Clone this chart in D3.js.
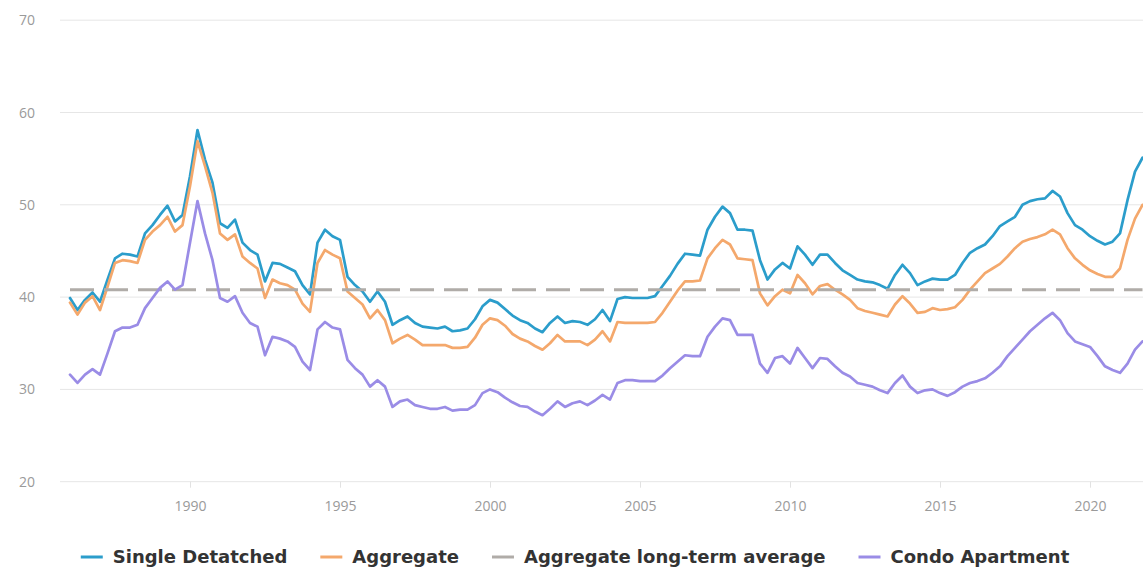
<!DOCTYPE html>
<html>
<head>
<meta charset="utf-8">
<script src="https://cdn.jsdelivr.net/npm/d3@7"></script>
<style>
  html, body { margin: 0; padding: 0; background: #fff; }
  svg { display: block; }
</style>
</head>
<body>
<svg id="chart" width="1143" height="569"></svg>
<script>
// Quarterly series, first quarter of 1986 through last quarter of 2021
const startYear = 1986;

const singleDetached = [
  39.9, 38.6, 39.7, 40.5,
  39.5, 41.9, 44.2, 44.7,
  44.6, 44.4, 46.9, 47.8,
  48.9, 49.9, 48.2, 48.9,
  53.1, 58.1, 54.9, 52.4,
  48.0, 47.5, 48.4, 45.9,
  45.1, 44.6, 41.7, 43.7,
  43.6, 43.2, 42.8, 41.3,
  40.3, 45.9, 47.3, 46.6,
  46.2, 42.2, 41.3, 40.6,
  39.5, 40.6, 39.5, 37.0,
  37.5, 37.9, 37.2, 36.8,
  36.7, 36.6, 36.8, 36.3,
  36.4, 36.6, 37.6, 39.0,
  39.7, 39.4, 38.7, 38.0,
  37.5, 37.2, 36.6, 36.2,
  37.2, 37.9, 37.2, 37.4,
  37.3, 37.0, 37.6, 38.6,
  37.4, 39.8, 40.0, 39.9,
  39.9, 39.9, 40.1, 41.2,
  42.3, 43.6, 44.7, 44.6,
  44.5, 47.3, 48.7, 49.8,
  49.1, 47.3, 47.3, 47.2,
  44.0, 41.9, 43.0, 43.7,
  43.1, 45.5, 44.6, 43.5,
  44.6, 44.6, 43.7, 42.9,
  42.4, 41.9, 41.7, 41.6,
  41.3, 40.9, 42.4, 43.5,
  42.6, 41.3, 41.7, 42.0,
  41.9, 41.9, 42.4, 43.7,
  44.8, 45.3, 45.7, 46.6,
  47.7, 48.2, 48.7, 50.0,
  50.4, 50.6, 50.7, 51.5,
  50.9, 49.1, 47.8, 47.3,
  46.6, 46.1, 45.7, 46.0,
  46.9, 50.5, 53.6, 55.1
];

const aggregate = [
  39.4, 38.1, 39.4, 40.1,
  38.6, 41.1, 43.7, 44.0,
  43.9, 43.7, 46.2, 47.1,
  47.8, 48.7, 47.1, 47.8,
  52.0, 56.9, 54.2, 51.3,
  46.9, 46.2, 46.8, 44.4,
  43.7, 43.1, 39.9, 41.9,
  41.5, 41.3, 40.8, 39.3,
  38.4, 43.7, 45.1, 44.6,
  44.2, 40.6, 39.9, 39.2,
  37.7, 38.6, 37.5, 35.0,
  35.5, 35.9, 35.4, 34.8,
  34.8, 34.8, 34.8, 34.5,
  34.5, 34.6, 35.6, 37.0,
  37.7, 37.5, 36.9, 36.0,
  35.5, 35.2, 34.7, 34.3,
  35.0, 35.9, 35.2, 35.2,
  35.2, 34.8, 35.4, 36.3,
  35.2, 37.3, 37.2, 37.2,
  37.2, 37.2, 37.3, 38.3,
  39.5, 40.7, 41.7, 41.7,
  41.8, 44.2, 45.3, 46.2,
  45.7, 44.2, 44.1, 44.0,
  40.4, 39.1, 40.1, 40.8,
  40.4, 42.4, 41.5, 40.3,
  41.2, 41.4, 40.8, 40.3,
  39.7, 38.8, 38.5, 38.3,
  38.1, 37.9, 39.2, 40.1,
  39.3, 38.3, 38.4, 38.8,
  38.6, 38.7, 38.9, 39.7,
  40.8, 41.7, 42.6, 43.1,
  43.6, 44.4, 45.3, 46.0,
  46.3, 46.5, 46.8, 47.3,
  46.8, 45.3, 44.2, 43.5,
  42.9, 42.5, 42.2, 42.2,
  43.1, 46.2, 48.5, 50.0
];

const condoApartment = [
  31.6, 30.7, 31.6, 32.2,
  31.6, 33.9, 36.3, 36.7,
  36.7, 37.0, 38.8, 39.9,
  41.0, 41.7, 40.8, 41.3,
  45.9, 50.4, 46.9, 44.0,
  39.9, 39.5, 40.1, 38.3,
  37.2, 36.8, 33.7, 35.7,
  35.5, 35.2, 34.6, 33.0,
  32.1, 36.5, 37.3, 36.7,
  36.5, 33.2, 32.3, 31.6,
  30.3, 31.0, 30.3, 28.1,
  28.7, 28.9, 28.3, 28.1,
  27.9, 27.9, 28.1, 27.7,
  27.8, 27.8, 28.3, 29.6,
  30.0, 29.7, 29.1, 28.6,
  28.2, 28.1, 27.6, 27.2,
  27.9, 28.7, 28.1, 28.5,
  28.7, 28.3, 28.8, 29.4,
  28.9, 30.7, 31.0, 31.0,
  30.9, 30.9, 30.9, 31.5,
  32.3, 33.0, 33.7, 33.6,
  33.6, 35.7, 36.8, 37.7,
  37.5, 35.9, 35.9, 35.9,
  32.8, 31.8, 33.4, 33.6,
  32.8, 34.5, 33.4, 32.3,
  33.4, 33.3, 32.5, 31.8,
  31.4, 30.7, 30.5, 30.3,
  29.9, 29.6, 30.7, 31.5,
  30.3, 29.6, 29.9, 30.0,
  29.6, 29.3, 29.7, 30.3,
  30.7, 30.9, 31.2, 31.8,
  32.5, 33.6, 34.5, 35.4,
  36.3, 37.0, 37.7, 38.3,
  37.5, 36.1, 35.2, 34.9,
  34.6, 33.6, 32.5, 32.1,
  31.8, 32.8, 34.3, 35.2
];

// Long-term average of the aggregate measure
const aggregateLongTermAverage = 40.8;

const yTicks = [20, 30, 40, 50, 60, 70];
const xTicks = [1990, 1995, 2000, 2005, 2010, 2015, 2020];

const seriesNames = ["Single Detatched", "Aggregate", "Aggregate long-term average", "Condo Apartment"];
const seriesColors = ["#2b9dcb", "#f4a86c", "#b0aca8", "#9a8ce6"];

// ---------------------------------------------------------------
const svg = d3.select("#chart");
const quarters = singleDetached.map((_, i) => startYear + i / 4);

const x = d3.scaleLinear()
  .domain([startYear, quarters[quarters.length - 1]])
  .range([70, 1142.5]);

const y = d3.scaleLinear()
  .domain([20, 70])
  .range([481.7, 20.2]);

const plotLeft = 60, plotRight = 1143;

// horizontal grid
svg.append("g")
  .selectAll("line")
  .data(yTicks)
  .join("line")
  .attr("x1", plotLeft).attr("x2", plotRight)
  .attr("y1", d => y(d)).attr("y2", d => y(d))
  .attr("stroke", "#e6e6e6")
  .attr("stroke-width", 1);

// y labels
svg.append("g")
  .selectAll("text")
  .data(yTicks)
  .join("text")
  .attr("x", 35)
  .attr("y", d => y(d) + 5)
  .attr("text-anchor", "end")
  .attr("font-family", "'Open Sans', sans-serif")
  .attr("font-size", 14)
  .attr("fill", "#9a9a9a")
  .text(d => d);

// x axis
const xAxis = svg.append("g")
  .attr("transform", `translate(0,${y(20)})`)
  .call(d3.axisBottom(x).tickValues(xTicks).tickFormat(d3.format("d")).tickSize(6));
xAxis.select(".domain").remove();
xAxis.selectAll(".tick line").attr("stroke", "#e2e2e2");
xAxis.selectAll(".tick text")
  .attr("y", 19)
  .attr("font-family", "'Open Sans', sans-serif")
  .attr("font-size", 14)
  .attr("fill", "#9a9a9a");

const line = d3.line()
  .x((d, i) => x(quarters[i]))
  .y(d => y(d));

const drawSeries = (values, color) =>
  svg.append("path")
    .datum(values)
    .attr("fill", "none")
    .attr("stroke", color)
    .attr("stroke-width", 2.7)
    .attr("stroke-linejoin", "round")
    .attr("stroke-linecap", "round")
    .attr("d", line);

drawSeries(singleDetached, seriesColors[0]);
drawSeries(aggregate, seriesColors[1]);

// long-term average reference line
svg.append("line")
  .attr("x1", x(quarters[0]))
  .attr("x2", x(quarters[quarters.length - 1]))
  .attr("y1", y(aggregateLongTermAverage))
  .attr("y2", y(aggregateLongTermAverage))
  .attr("stroke", seriesColors[2])
  .attr("stroke-width", 3)
  .attr("stroke-dasharray", "24 10");

drawSeries(condoApartment, seriesColors[3]);

// legend
const legend = svg.append("g");
const markerW = 22, markerGap = 10, itemGap = 33, legendY = 557;
let cursor = 0;
seriesNames.forEach((name, i) => {
  const item = legend.append("g").attr("transform", `translate(${cursor},0)`);
  item.append("line")
    .attr("x1", 0).attr("x2", markerW)
    .attr("y1", legendY).attr("y2", legendY)
    .attr("stroke", seriesColors[i])
    .attr("stroke-width", 3);
  const t = item.append("text")
    .attr("x", markerW + markerGap)
    .attr("y", legendY + 6)
    .attr("font-family", "'DejaVu Sans', sans-serif")
    .attr("font-weight", "bold")
    .attr("font-size", 18)
    .attr("fill", "#333")
    .text(name);
  cursor += markerW + markerGap + t.node().getComputedTextLength() + itemGap;
});
const legendWidth = cursor - itemGap;
legend.attr("transform", `translate(${575 - legendWidth / 2},0)`);
</script>
</body>
</html>
